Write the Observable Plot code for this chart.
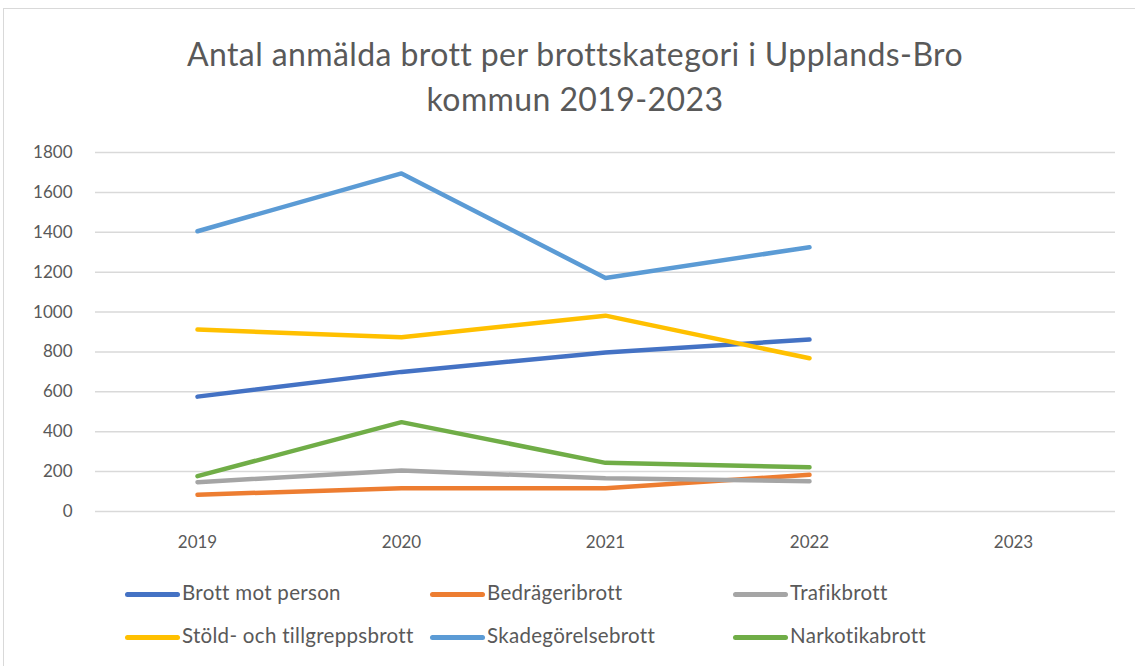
<!DOCTYPE html>
<html>
<head>
<meta charset="utf-8">
<script src="https://cdn.jsdelivr.net/npm/d3@7"></script>
<script src="https://cdn.jsdelivr.net/npm/@observablehq/plot@0.6"></script>
<style>
  html, body { margin: 0; padding: 0; background: #fff; }
  body { width: 1135px; height: 666px; position: relative; overflow: hidden; font-family: Lato, "Open Sans", sans-serif; }
  #frame { position: absolute; left: 3px; top: 8px; width: 1140px; height: 670px; border: 1px solid #d9d9d9; box-sizing: border-box; }
  #title { position: absolute; left: 0; width: 1150px; top: 31px; text-align: center; font-size: 32px; letter-spacing: 0.4px; line-height: 45px; color: #595959; }
  #chart { position: absolute; left: 0; top: 132px; }
  .leg { position: absolute; font-size: 20.5px; letter-spacing: 0.3px; color: #595959; white-space: nowrap; }
  .sw { position: absolute; width: 55px; height: 5px; border-radius: 3px; }
</style>
</head>
<body>
<div id="frame"></div>
<div id="title">Antal anmälda brott per brottskategori i Upplands-Bro<br>kommun 2019-2023</div>
<div id="chart"></div>
<div id="legend"></div>
<script>
const years = ["2019", "2020", "2021", "2022", "2023"];
const seriesNames = ["Brott mot person", "Bedrägeribrott", "Trafikbrott", "Stöld- och tillgreppsbrott", "Skadegörelsebrott", "Narkotikabrott"];
const seriesColors = ["#4472C4", "#ED7D31", "#A5A5A5", "#FFC000", "#5B9BD5", "#70AD47"];
const brottMotPerson = [576, 700, 797, 862];
const bedrageribrott = [84, 117, 117, 184];
const trafikbrott = [147, 205, 167, 152];
const stold = [912, 874, 982, 768];
const skadegorelse = [1405, 1695, 1171, 1325];
const narkotika = [177, 448, 244, 222];
const yTicks = [0, 200, 400, 600, 800, 1000, 1200, 1400, 1600, 1800];

const allSeries = [brottMotPerson, bedrageribrott, trafikbrott, stold, skadegorelse, narkotika];
const rows = [];
allSeries.forEach((vals, i) => vals.forEach((v, j) => rows.push({ year: years[j], value: v, series: seriesNames[i] })));

const plot = Plot.plot({
  width: 1135,
  height: 430,
  marginLeft: 95,
  marginRight: 20,
  marginTop: 20,
  marginBottom: 51,
  style: { fontFamily: "Lato, sans-serif", fontSize: "17px", color: "#595959", background: "transparent" },
  x: { type: "point", domain: years, padding: 0.5, label: null, tickSize: 0, tickPadding: 24 },
  y: { domain: [0, 1800], ticks: yTicks, tickFormat: d => String(d), label: null, tickSize: 0, tickPadding: 23 },
  color: { domain: seriesNames, range: seriesColors },
  marks: [
    Plot.gridY(yTicks, { stroke: "#d9d9d9", strokeOpacity: 1, strokeWidth: 1.5 }),
    Plot.line(rows, { x: "year", y: "value", z: "series", stroke: "series", strokeWidth: 4.5, strokeLinecap: "round", strokeLinejoin: "round" })
  ]
});
document.getElementById("chart").appendChild(plot);

const legend = document.getElementById("legend");
const colX = [125, 430, 733];
const rowY = [594, 637];
seriesNames.forEach((name, i) => {
  const x = colX[i % 3], y = rowY[Math.floor(i / 3)];
  const sw = document.createElement("div");
  sw.className = "sw";
  sw.style.left = x + "px";
  sw.style.top = (y - 2.5) + "px";
  sw.style.background = seriesColors[i];
  legend.appendChild(sw);
  const t = document.createElement("div");
  t.className = "leg";
  t.textContent = name;
  t.style.left = (x + 57) + "px";
  t.style.top = (y - 14) + "px";
  legend.appendChild(t);
});
</script>
</body>
</html>
